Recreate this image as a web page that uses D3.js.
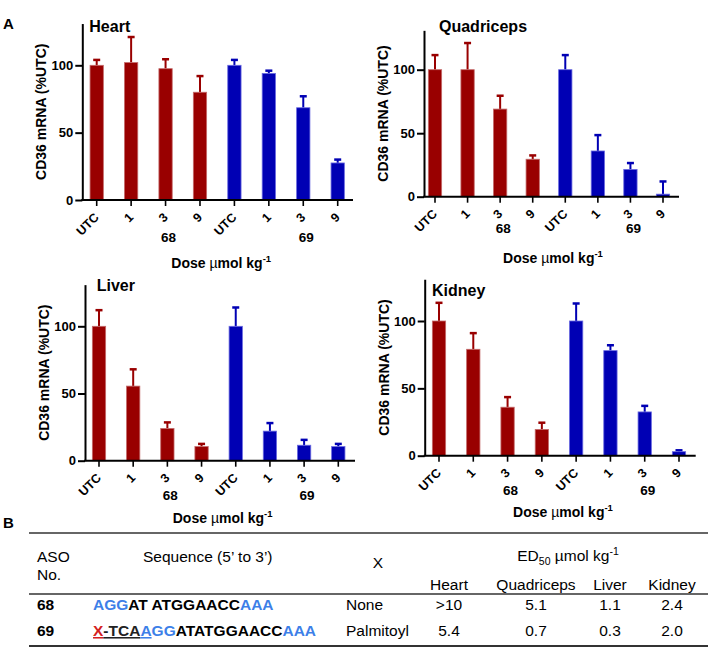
<!DOCTYPE html>
<html>
<head>
<meta charset="utf-8">
<script src="https://cdn.jsdelivr.net/npm/d3@7"></script>
<style>
  body { margin: 0; background: #fff; }
  svg { display: block; }
  text { font-family: "Liberation Sans", Arial, Helvetica, sans-serif; }
</style>
</head>
<body>
<svg id="fig" width="708" height="647"></svg>
<script>
// dose groups (x categories)
var doses = ["UTC", "1", "3", "9", "UTC", "1", "3", "9"];
var compounds = ["68", "68", "68", "68", "69", "69", "69", "69"];
var tissues = ["Heart", "Quadriceps", "Liver", "Kidney"];

// CD36 mRNA, % of UTC (mean and upper error)
var heartMean = [100, 102, 97.5, 80, 100, 94, 68.5, 27.5];
var heartSD   = [4, 19, 7, 12, 4, 2, 8.5, 2.5];
var quadMean  = [100, 100, 69, 29.5, 100, 36, 21.5, 2];
var quadSD    = [11.5, 21, 10.5, 3, 11.5, 12.5, 5, 10];
var liverMean = [100, 55.5, 24, 10.5, 100, 22, 11.5, 10.5];
var liverSD   = [12, 12.5, 4.5, 2, 14, 6, 4, 2];
var kidneyMean = [100, 79, 36, 19.5, 100, 78, 32.5, 3];
var kidneySD   = [13.5, 12, 7.5, 5, 13, 4, 4.5, 1];

// table B
var asoIds = ["68", "69"];
var xGroups = ["None", "Palmitoyl"];
var ed50Heart = [">10", "5.4"];
var ed50Quad = ["5.1", "0.7"];
var ed50Liver = ["1.1", "0.3"];
var ed50Kidney = ["2.4", "2.0"];

var red = "#990000", blue = "#0000b4";
var redEdge = "#c46a6a", blueEdge = "#6a6ae0";

var svg = d3.select("#fig");

var layouts = [
  { ax: 82.3, xEnd: 353, x1: 96.7, x2: 337.7, y0: 200, y100: 65.3, tDx: 7, tY: 32, gDy: 42, dDy: 68 },
  { ax: 424, xEnd: 679, x1: 435, x2: 663, y0: 196.7, y100: 69.7, tDx: 15, tY: 31.7, gDy: 36, dDy: 66 },
  { ax: 85, xEnd: 355, x1: 99, x2: 338.3, y0: 460.7, y100: 326.3, tDx: 11.7, tY: 290.7, gDy: 39, dDy: 62 },
  { ax: 424.7, xEnd: 695.7, x1: 439, x2: 679, y0: 455.7, y100: 321, tDx: 7.3, tY: 296, gDy: 39, dDy: 61 }
];
var means = [heartMean, quadMean, liverMean, kidneyMean];
var sds = [heartSD, quadSD, liverSD, kidneySD];

tissues.forEach(function(name, p) {
  var L = layouts[p];
  var g = svg.append("g");
  var x = d3.scalePoint().domain(d3.range(doses.length)).range([L.x1, L.x2]);
  var y = d3.scaleLinear().domain([0, 131]).range([L.y0, L.y0 - 1.31 * (L.y0 - L.y100)]);
  var bw = 13.3;
  var rows = doses.map(function(d, i) {
    return { i: i, dose: d, cmp: compounds[i], m: means[p][i], sd: sds[p][i] };
  });

  // error bars (upper only)
  var eb = g.selectAll(".eb").data(rows).enter().append("g")
    .attr("stroke", function(d) { return d.cmp === "68" ? red : blue; });
  eb.append("line")
    .attr("x1", function(d) { return x(d.i); }).attr("x2", function(d) { return x(d.i); })
    .attr("y1", function(d) { return y(d.m); }).attr("y2", function(d) { return y(d.m + d.sd); })
    .attr("stroke-width", 2);
  eb.append("line")
    .attr("x1", function(d) { return x(d.i) - 3.5; }).attr("x2", function(d) { return x(d.i) + 3.5; })
    .attr("y1", function(d) { return y(d.m + d.sd); }).attr("y2", function(d) { return y(d.m + d.sd); })
    .attr("stroke-width", 2.5);

  g.selectAll(".bar").data(rows).enter().append("rect")
    .attr("x", function(d) { return x(d.i) - bw / 2; })
    .attr("width", bw)
    .attr("y", function(d) { return y(d.m); })
    .attr("height", function(d) { return y(0) - y(d.m); })
    .attr("fill", function(d) { return d.cmp === "68" ? red : blue; })
    .attr("stroke", function(d) { return d.cmp === "68" ? redEdge : blueEdge; })
    .attr("stroke-width", 0.8);

  // y axis
  var ya = g.append("g").attr("transform", "translate(" + L.ax + ",0)")
    .call(d3.axisLeft(y).tickValues([0, 50, 100]).tickSize(7).tickSizeOuter(0).tickPadding(2));
  ya.select(".domain").attr("stroke-width", 2);
  ya.selectAll(".tick line").attr("stroke-width", 2);
  ya.selectAll(".tick text").attr("font-size", 13).attr("font-weight", "bold")
    .attr("fill", "#000").style("font-family", "'Liberation Sans', Arial, sans-serif");

  // x axis
  g.append("line").attr("x1", L.ax - 1).attr("x2", L.xEnd).attr("y1", L.y0).attr("y2", L.y0)
    .attr("stroke", "#000").attr("stroke-width", 2);
  g.selectAll(".xt").data(rows).enter().append("line")
    .attr("x1", function(d) { return x(d.i); }).attr("x2", function(d) { return x(d.i); })
    .attr("y1", L.y0).attr("y2", L.y0 + 6)
    .attr("stroke", "#000").attr("stroke-width", 1.6);
  g.selectAll(".xl").data(rows).enter().append("text")
    .attr("transform", function(d) { return "translate(" + (x(d.i) + 3) + "," + (L.y0 + 18) + ") rotate(-45)"; })
    .attr("text-anchor", "end")
    .attr("font-size", 12.5).attr("font-weight", "bold")
    .text(function(d) { return d.dose; });

  // compound labels
  [2, 6].forEach(function(i) {
    g.append("text").attr("x", x(i) + 3).attr("y", L.y0 + L.gDy)
      .attr("text-anchor", "middle").attr("font-size", 13.5).attr("font-weight", "bold")
      .text(compounds[i]);
  });

  // dose label
  var dl = g.append("text").attr("x", (L.x1 + L.x2) / 2 + 4).attr("y", L.y0 + L.dDy)
    .attr("text-anchor", "middle").attr("font-size", 14).attr("font-weight", "bold");
  dl.append("tspan").text("Dose ");
  dl.append("tspan").attr("font-weight", "normal").text("\u00b5");
  dl.append("tspan").text("mol kg");
  dl.append("tspan").attr("font-size", 9.5).attr("dy", -6).text("-1");

  // y label
  g.append("text")
    .attr("transform", "translate(" + (L.ax - 41) + "," + ((y(0) + y(131)) / 2) + ") rotate(-90)")
    .attr("text-anchor", "middle").attr("dominant-baseline", "central")
    .attr("font-size", 14).attr("font-weight", "bold")
    .text("CD36 mRNA (%UTC)");

  // title
  g.append("text").attr("x", L.ax + L.tDx).attr("y", L.tY)
    .attr("font-size", 16).attr("font-weight", "bold").text(name);
});

// panel letters
svg.append("text").attr("x", 3).attr("y", 29).attr("font-size", 15).attr("font-weight", "bold").text("A");
svg.append("text").attr("x", 3).attr("y", 528).attr("font-size", 15).attr("font-weight", "bold").text("B");

// ---- table B ----
var tb = svg.append("g").attr("font-size", 15.5);
[[533, 1.5], [594, 1.5], [646, 2]].forEach(function(r) {
  tb.append("line").attr("x1", 29).attr("x2", 708).attr("y1", r[0]).attr("y2", r[0])
    .attr("stroke", "#333").attr("stroke-width", r[1]);
});
tb.append("text").attr("x", 37).attr("y", 562).text("ASO");
tb.append("text").attr("x", 37).attr("y", 580).text("No.");
tb.append("text").attr("x", 143).attr("y", 562).text("Sequence (5\u2019 to 3\u2019)");
tb.append("text").attr("x", 378).attr("y", 568).attr("text-anchor", "middle").text("X");
var ed = tb.append("text").attr("x", 568).attr("y", 561).attr("text-anchor", "middle");
ed.append("tspan").text("ED");
ed.append("tspan").attr("font-size", 10.5).attr("dy", 4).text("50");
ed.append("tspan").attr("dy", -4).text(" \u00b5mol kg");
ed.append("tspan").attr("font-size", 10.5).attr("dy", -6).text("-1");

var colX = [449, 536, 610, 672];
tissues.forEach(function(t, i) {
  tb.append("text").attr("x", colX[i]).attr("y", 590).attr("text-anchor", "middle").text(t);
});

var seqBlue = "#3d7fe8", seqRed = "#d42020";
var seqParts = [
  [["AGG", seqBlue, false], ["AT ATGGAACC", "#000", false], ["AAA", seqBlue, false]],
  [["X", seqRed, true], ["-TCA", "#222", true], ["A", seqBlue, true], ["GG", seqBlue, false],
   ["ATATGGAACC", "#000", false], ["AAA", seqBlue, false]]
];
var rowY = [610, 636];
var edCols = [ed50Heart, ed50Quad, ed50Liver, ed50Kidney];
asoIds.forEach(function(id, r) {
  tb.append("text").attr("x", 37).attr("y", rowY[r]).attr("font-weight", "bold").text(id);
  var s = tb.append("text").attr("x", 93).attr("y", rowY[r]).attr("font-weight", "bold");
  seqParts[r].forEach(function(pt) {
    s.append("tspan").attr("fill", pt[1])
      .style("text-decoration", pt[2] ? "underline" : "none").text(pt[0]);
  });
  tb.append("text").attr("x", 346).attr("y", rowY[r]).text(xGroups[r]);
  edCols.forEach(function(col, c) {
    tb.append("text").attr("x", colX[c]).attr("y", rowY[r]).attr("text-anchor", "middle").text(col[r]);
  });
});
</script>
</body>
</html>
